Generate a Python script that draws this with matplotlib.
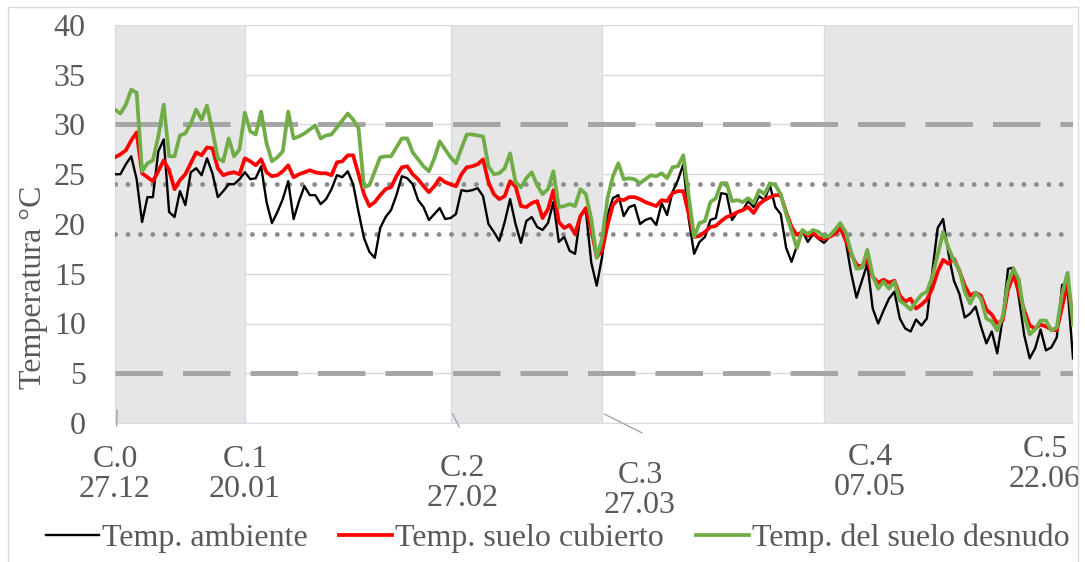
import numpy as np
import matplotlib
matplotlib.use('Agg')
import matplotlib.pyplot as plt
from matplotlib.patches import Rectangle

plt.rcParams['font.family'] = ['Liberation Serif', 'DejaVu Serif']

# Temperaturas medias diarias (°C), del 27.12 al 22.06
t_ambiente = [
    25.0, 25.0, 26.0, 26.8, 24.5, 20.2, 22.7, 22.7, 27.3, 28.5,
    21.2, 20.7, 23.3, 21.9, 25.2, 25.6, 24.9, 26.6, 25.1, 22.7,
    23.3, 24.0, 24.0, 24.5, 25.2, 24.5, 24.6, 25.8, 22.2, 20.1,
    21.2, 22.5, 24.3, 20.5, 22.3, 23.8, 22.9, 22.9, 22.0, 22.5,
    23.5, 24.9, 24.7, 25.3, 24.0, 21.2, 18.6, 17.2, 16.6, 19.6,
    20.7, 21.4, 22.9, 24.8, 24.6, 24.0, 22.4, 21.7, 20.4, 21.0,
    21.6, 20.5, 20.6, 21.0, 23.4, 23.3, 23.4, 23.6, 22.8, 20.0,
    19.2, 18.3, 20.2, 22.5, 20.0, 18.1, 20.3, 20.7, 19.7, 19.4,
    20.1, 22.2, 18.2, 18.7, 17.3, 17.0, 20.9, 21.3, 16.1, 13.8,
    16.7, 20.9, 22.6, 22.9, 20.8, 21.7, 21.9, 20.0, 20.4, 20.6,
    19.9, 22.1, 20.9, 23.2, 24.4, 26.0, 20.5, 17.0, 18.2, 18.7,
    20.4, 20.6, 23.1, 23.0, 20.4, 21.2, 21.4, 22.3, 21.7, 22.8,
    22.4, 23.9, 21.7, 21.0, 17.6, 16.2, 17.8, 19.3, 18.2, 19.0,
    18.5, 18.1, 18.7, 19.3, 19.6, 18.3, 15.1, 12.6, 14.3, 16.0,
    11.5, 10.0, 11.3, 12.5, 13.2, 10.5, 9.5, 9.2, 10.4, 9.8,
    10.5, 15.2, 19.6, 20.5, 17.0, 14.3, 13.0, 10.6, 11.0, 11.7,
    9.7, 8.0, 9.2, 7.0, 10.5, 15.5, 15.6, 12.6, 8.8, 6.5,
    7.5, 9.4, 7.3, 7.6, 8.6, 13.9, 13.5, 6.5,
]
t_cubierto = [
    26.7, 27.0, 27.4, 28.4, 29.2, 25.1, 24.7, 24.3, 25.3, 26.4,
    25.4, 23.5, 24.4, 25.0, 26.1, 27.2, 26.9, 27.7, 27.6, 25.6,
    24.9, 25.1, 25.2, 25.0, 26.6, 26.3, 25.9, 26.5, 25.2, 24.8,
    24.9, 25.3, 25.9, 24.7, 25.0, 25.2, 25.4, 25.2, 25.1, 25.1,
    24.9, 26.2, 26.3, 26.9, 26.9, 25.0, 23.0, 21.8, 22.2, 22.9,
    23.5, 23.7, 24.8, 25.7, 25.8, 25.0, 24.5, 23.8, 23.2, 23.8,
    24.6, 24.2, 24.0, 23.8, 25.0, 25.7, 25.8, 26.0, 26.5, 24.2,
    23.0, 22.5, 22.8, 24.3, 23.8, 21.8, 21.7, 22.1, 22.3, 20.6,
    21.5, 23.4, 20.2, 19.6, 19.9, 19.0, 20.8, 21.6, 19.5, 16.7,
    17.3, 19.9, 21.9, 22.5, 22.4, 22.7, 22.7, 22.5, 22.2, 22.0,
    21.8, 22.4, 22.3, 23.1, 23.3, 23.3, 21.0, 18.7, 18.8, 19.2,
    19.7, 19.8, 20.3, 20.7, 20.9, 21.2, 21.4, 21.7, 21.1, 22.0,
    22.4, 22.7, 22.9, 22.9, 21.2, 19.7, 18.9, 19.2, 18.8, 19.1,
    18.6, 18.5, 18.7, 19.0, 19.6, 18.4, 17.0, 15.9, 15.7, 16.4,
    14.7, 14.1, 14.4, 14.1, 14.3, 12.8, 12.2, 12.5, 11.5, 11.9,
    12.4, 13.5, 15.2, 16.4, 16.0, 16.5, 15.3, 13.8, 12.8, 13.1,
    12.8, 11.4, 10.9, 10.0, 10.3, 13.4, 14.9, 13.2, 11.3, 9.8,
    9.5, 9.9, 9.7, 9.4, 9.3, 11.7, 14.0, 10.5,
]
t_desnudo = [
    31.5, 31.1, 32.0, 33.5, 33.2, 25.3, 26.1, 26.4, 28.8, 32.0,
    26.8, 26.8, 28.9, 29.1, 30.1, 31.5, 30.5, 31.9, 29.4, 26.6,
    26.3, 28.6, 26.8, 27.5, 31.2, 29.3, 29.0, 31.3, 28.1, 26.3,
    26.7, 27.3, 31.3, 28.6, 28.8, 29.1, 29.5, 29.9, 28.6, 28.9,
    29.0, 29.7, 30.4, 31.1, 30.5, 29.6, 23.7, 23.9, 25.3, 26.7,
    26.8, 26.8, 27.7, 28.6, 28.6, 27.2, 26.5, 25.8, 25.3, 26.6,
    28.3, 27.5, 26.7, 26.1, 27.6, 29.0, 29.0, 28.9, 28.8, 25.8,
    25.0, 25.1, 25.6, 27.1, 24.2, 23.7, 24.6, 25.2, 23.9, 23.0,
    23.5, 25.3, 21.7, 21.8, 22.0, 21.8, 23.5, 23.0, 20.5, 16.6,
    18.5, 22.6, 24.8, 26.1, 24.5, 24.6, 24.5, 24.1, 24.5, 24.9,
    24.8, 25.1, 24.6, 25.7, 25.8, 26.9, 22.8, 18.7, 20.1, 20.3,
    22.2, 22.6, 24.1, 24.1, 22.3, 22.4, 22.2, 22.6, 22.1, 23.4,
    23.0, 24.1, 23.9, 23.0, 21.0, 19.3, 17.6, 19.4, 19.0, 19.4,
    19.2, 18.7, 18.8, 19.4, 20.1, 19.2, 17.2, 15.5, 15.6, 17.4,
    14.8, 13.5, 14.2, 13.5, 14.2, 12.3, 11.9, 11.4, 12.2, 12.9,
    13.2, 14.7, 16.9, 19.2, 17.6, 16.3, 15.4, 13.2, 12.0, 13.1,
    12.5, 10.5, 10.2, 9.3, 10.7, 14.1, 15.5, 14.4, 10.8, 8.9,
    9.4, 10.3, 10.3, 9.3, 9.6, 13.0, 15.1, 9.9,
]

# Cortes y fechas (día desde el 27.12)
cortes = ['C.0', 'C.1', 'C.2', 'C.3', 'C.4', 'C.5']
fechas = ['27.12', '20.01', '27.02', '27.03', '07.05', '22.06']
dia_corte = [0, 24, 62, 90, 131, 177]

# Umbrales de referencia
limites = [30, 5]
optimos = [24, 19]

dias = np.arange(len(t_ambiente))
gris_txt = '#595959'

fig = plt.figure(figsize=(10.85, 5.62), dpi=100)
ax = fig.add_axes([115 / 1085, 1 - 423 / 562, 958 / 1085, 398 / 562])

# periodos sombreados entre cortes alternos
for i in range(0, len(dia_corte) - 1, 2):
    ax.axvspan(dia_corte[i], dia_corte[i + 1], facecolor='#e6e6e6',
               edgecolor='#d6dce5', lw=1, zorder=1)

for v in limites:
    ax.axhline(v, color='#a6a6a6', lw=3.6, dashes=(9.5, 4),
               dash_capstyle='butt', zorder=2)
for v in optimos:
    ax.axhline(v, color='#8c8c8c', lw=3.5, dashes=(0.01, 2.55),
               dash_capstyle='round', zorder=2)

ax.plot(dias, t_ambiente, color='black', lw=1.7, zorder=3,
        label='Temp. ambiente')
ax.plot(dias, t_cubierto, color='#ff0000', lw=2.7, zorder=4,
        label='Temp. suelo cubierto')
ax.plot(dias, t_desnudo, color='#70ad47', lw=2.7, zorder=5,
        label='Temp. del suelo desnudo')

ax.set_xlim(0, len(dias) - 1)
ax.set_ylim(0, 40)
ax.set_yticks(range(0, 41, 5))
ax.set_xticks([])
ax.grid(axis='y', color='#d9d9d9', lw=1, zorder=0)
ax.set_axisbelow(True)
for s in ['top', 'right', 'left']:
    ax.spines[s].set_visible(False)
ax.spines['bottom'].set_color('#d6dce5')
ax.tick_params(axis='y', length=0, pad=21, labelsize=23, labelcolor=gris_txt)

# etiquetas de los cortes bajo el eje
desplaz = [(0, -22), (0, -22), (12, -31), (38, -38), (46, -20), (-28, -12)]
for c, f, d, (dx, dy) in zip(cortes, fechas, dia_corte, desplaz):
    ax.annotate(c + '\n' + f, xy=(d, 0), xytext=(dx, dy),
                textcoords='offset pixels', ha='center', va='top',
                fontsize=23, color=gris_txt, linespacing=1.05,
                annotation_clip=False)

# líneas guía de las etiquetas desplazadas
guias = [(0, 1.3, 0.3, -0.3), (62, 0.9, 1.6, -0.4), (90, 0.9, 7.4, -1.0)]
for d, y0, ddx, y1 in guias:
    ax.annotate('', xy=(d + 0.4, y0), xytext=(d + ddx, y1),
                textcoords='data', annotation_clip=False,
                arrowprops=dict(arrowstyle='-', color='#a6a6a6', lw=1,
                                shrinkA=0, shrinkB=0))

fig.text(34 / 1085, 1 - 287 / 562, 'Temperatura °C', rotation=90,
         ha='center', va='center', fontsize=23, color=gris_txt)

leg = fig.legend(loc='center', bbox_to_anchor=(0.514, 1 - 538 / 562), ncol=3,
                 frameon=False, fontsize=23, handlelength=1.65,
                 handletextpad=0.1, columnspacing=1.0, borderaxespad=0)
for t in leg.get_texts():
    t.set_color(gris_txt)

fig.add_artist(Rectangle((8 / 1085, -0.1), 1070 / 1085, 1.1 - 7 / 562,
                         transform=fig.transFigure, fill=False,
                         edgecolor='#d9d9d9', lw=1))

fig.savefig('out.png', dpi=100)
